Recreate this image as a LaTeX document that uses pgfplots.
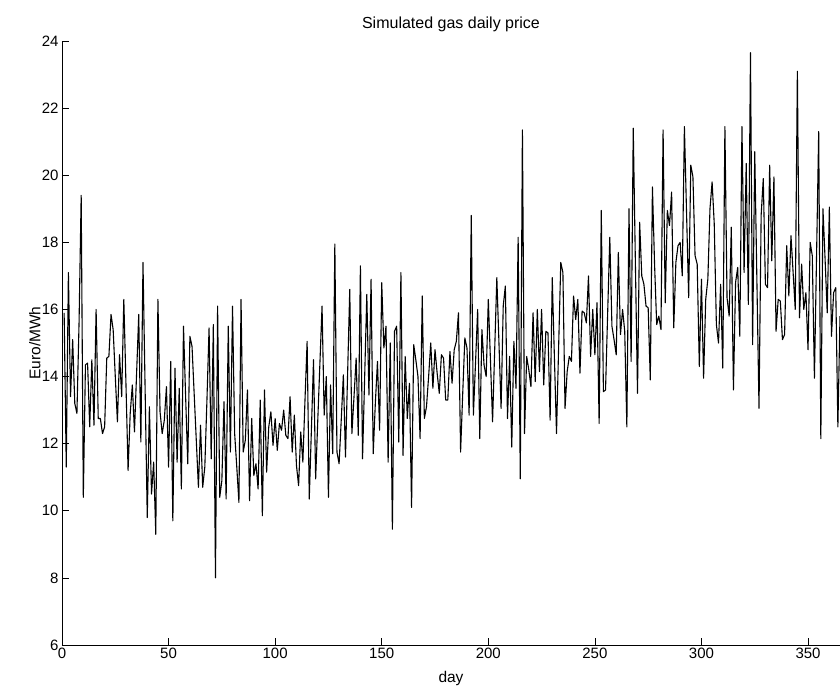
\documentclass[border=0pt]{standalone}
\usepackage{fontspec}
\setmainfont{Liberation Sans}
\usepackage{pgfplots}
\pgfplotsset{compat=1.18}
\begin{document}
\begin{tikzpicture}
\useasboundingbox (-62bp,-43bp) rectangle (778bp,645bp);
\begin{axis}[
  width=778bp, height=604bp, scale only axis,
  xmin=0, xmax=365, ymin=6, ymax=24,
  axis x line*=bottom, axis y line*=left,
  xtick={0,50,...,350}, ytick={6,8,...,24},
  tick align=inside, major tick length=7bp,
  tick style={black, line width=0.6bp},
  axis line style={black, line width=0.6bp},
  /pgf/number format/assume math mode=true,
  every tick label/.append style={font=\fontsize{15bp}{18bp}\selectfont},
  label style={font=\fontsize{15.5bp}{18bp}\selectfont},
  title={Simulated gas daily price},
  title style={at={(axis description cs:0.5,1.018)}, anchor=center, yshift=0pt, font=\fontsize{16bp}{19bp}\selectfont},
  xlabel={day},
  xlabel style={at={(axis description cs:0.5,-0.056)}, anchor=center},
  ylabel={Euro/MWh},
  ylabel style={at={(axis description cs:-0.035,0.5)}, anchor=center},
]
\addplot[black, line width=1.1bp, line join=round, mark=none] coordinates {
(1,15.9) (2,11.3) (3,17.1) (4,13.4) (5,15.1) (6,13.2) (7,12.9) (8,15.6) (9,19.4) (10,10.4)
(11,14.35) (12,14.4) (13,12.5) (14,14.5) (15,12.55) (16,16.0) (17,12.75) (18,12.75) (19,12.3) (20,12.5)
(21,14.55) (22,14.6) (23,15.85) (24,15.4) (25,14.0) (26,12.65) (27,14.65) (28,13.4) (29,16.3) (30,13.8)
(31,11.2) (32,12.9) (33,13.75) (34,12.35) (35,14.1) (36,15.85) (37,12.05) (38,17.4) (39,13.6) (40,9.8)
(41,13.1) (42,10.5) (43,11.45) (44,9.3) (45,16.3) (46,12.95) (47,12.3) (48,12.7) (49,13.7) (50,11.3)
(51,14.45) (52,9.7) (53,14.25) (54,11.45) (55,13.65) (56,10.65) (57,15.5) (58,13.4) (59,11.4) (60,15.2)
(61,14.9) (62,13.5) (63,12.1) (64,10.7) (65,12.55) (66,10.7) (67,11.3) (68,13.3) (69,15.45) (70,11.55)
(71,15.55) (72,8.0) (73,16.1) (74,10.4) (75,10.9) (76,13.25) (77,10.35) (78,15.5) (79,11.75) (80,16.1)
(81,12.3) (82,11.3) (83,10.25) (84,16.3) (85,11.75) (86,12.1) (87,13.6) (88,10.3) (89,12.75) (90,11.05)
(91,11.4) (92,10.65) (93,13.3) (94,9.85) (95,13.6) (96,11.15) (97,12.5) (98,12.95) (99,11.95) (100,12.75)
(101,11.8) (102,12.6) (103,12.4) (104,13.0) (105,12.25) (106,12.15) (107,13.4) (108,11.75) (109,12.85) (110,11.35)
(111,10.75) (112,12.35) (113,11.45) (114,13.3) (115,15.05) (116,10.35) (117,12.4) (118,14.5) (119,10.95) (120,12.7)
(121,14.4) (122,16.1) (123,12.85) (124,14.0) (125,10.4) (126,13.75) (127,11.7) (128,17.95) (129,11.75) (130,11.4)
(131,12.7) (132,14.05) (133,11.6) (134,14.1) (135,16.6) (136,12.3) (137,13.4) (138,14.55) (139,12.25) (140,17.3)
(141,11.55) (142,14.0) (143,16.45) (144,13.45) (145,16.9) (146,11.7) (147,13.2) (148,14.45) (149,12.4) (150,16.8)
(151,14.85) (152,15.5) (153,11.45) (154,15.0) (155,9.45) (156,15.35) (157,15.5) (158,12.05) (159,17.1) (160,11.65)
(161,14.6) (162,12.75) (163,13.8) (164,10.1) (165,14.95) (166,14.5) (167,14.0) (168,12.15) (169,16.4) (170,12.75)
(171,13.1) (172,14.0) (173,15.0) (174,13.65) (175,14.8) (176,14.1) (177,13.5) (178,14.65) (179,14.55) (180,13.3)
(181,13.3) (182,14.75) (183,13.8) (184,14.8) (185,15.05) (186,15.9) (187,11.75) (188,13.5) (189,15.15) (190,14.85)
(191,12.85) (192,18.8) (193,12.85) (194,14.4) (195,16.0) (196,12.15) (197,15.4) (198,14.35) (199,14.0) (200,16.3)
(201,14.5) (202,12.65) (203,14.8) (204,16.95) (205,15.0) (206,13.05) (207,16.1) (208,16.7) (209,12.75) (210,14.6)
(211,11.9) (212,15.05) (213,13.65) (214,18.15) (215,10.95) (216,21.35) (217,12.3) (218,14.6) (219,14.2) (220,13.7)
(221,15.9) (222,13.85) (223,16.0) (224,14.15) (225,16.0) (226,13.75) (227,15.35) (228,15.3) (229,12.7) (230,16.95)
(231,14.6) (232,12.3) (233,14.9) (234,17.4) (235,17.1) (236,13.05) (237,14.15) (238,14.6) (239,14.45) (240,16.4)
(241,15.7) (242,16.3) (243,14.1) (244,15.95) (245,15.9) (246,15.6) (247,17.0) (248,14.6) (249,16.0) (250,14.65)
(251,16.2) (252,12.6) (253,18.95) (254,13.55) (255,13.6) (256,15.9) (257,18.15) (258,15.5) (259,15.1) (260,14.65)
(261,17.7) (262,15.25) (263,16.0) (264,15.35) (265,12.5) (266,19.0) (267,14.45) (268,21.4) (269,17.4) (270,13.5)
(271,18.6) (272,17.0) (273,16.75) (274,16.1) (275,16.05) (276,13.9) (277,19.65) (278,17.35) (279,15.55) (280,15.8)
(281,15.4) (282,21.35) (283,16.2) (284,18.95) (285,18.5) (286,19.5) (287,15.45) (288,17.4) (289,17.9) (290,18.0)
(291,17.0) (292,21.45) (293,18.9) (294,16.35) (295,20.3) (296,19.95) (297,17.6) (298,17.35) (299,14.3) (300,16.9)
(301,13.95) (302,16.3) (303,16.9) (304,19.0) (305,19.8) (306,18.55) (307,15.55) (308,15.0) (309,16.75) (310,14.25)
(311,21.45) (312,16.35) (313,15.8) (314,18.45) (315,13.6) (316,16.8) (317,17.25) (318,15.2) (319,21.45) (320,17.1)
(321,20.35) (322,16.15) (323,23.65) (324,14.95) (325,20.7) (326,16.9) (327,13.05) (328,18.8) (329,19.9) (330,16.75)
(331,16.65) (332,20.3) (333,17.45) (334,19.95) (335,15.35) (336,16.3) (337,16.25) (338,15.1) (339,15.25) (340,17.9)
(341,16.4) (342,18.2) (343,17.1) (344,16.0) (345,23.1) (346,15.75) (347,17.35) (348,16.0) (349,16.5) (350,14.8)
(351,18.0) (352,17.6) (353,13.95) (354,17.6) (355,21.3) (356,12.15) (357,19.0) (358,17.5) (359,15.9) (360,19.05)
(361,15.2) (362,16.5) (363,16.65) (364,12.5) (365,15.8)
};
\end{axis}
\end{tikzpicture}
\end{document}
